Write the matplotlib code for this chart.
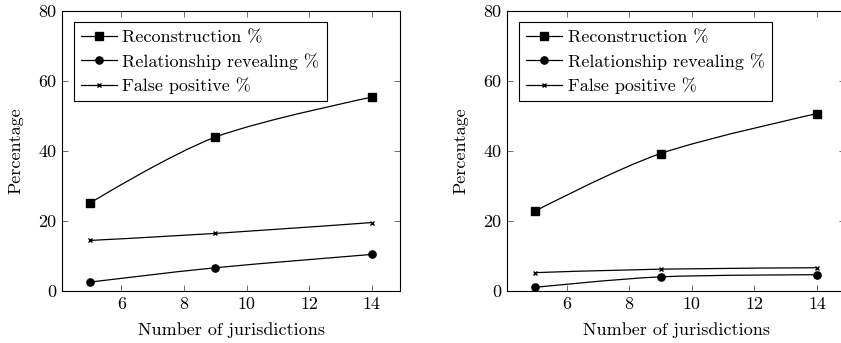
import numpy as np
import matplotlib
matplotlib.use("Agg")
import matplotlib.pyplot as plt
from matplotlib.path import Path
from matplotlib.patches import PathPatch
from matplotlib.lines import Line2D

plt.rcParams['font.family'] = 'cmr10'
plt.rcParams['mathtext.fontset'] = 'cm'
plt.rcParams['axes.unicode_minus'] = False
plt.rcParams['font.size'] = 13

jurisdictions = [5, 9, 14]

# left panel
recon_a = [25.1, 43.9, 55.3]
relat_a = [2.5, 6.6, 10.4]
falsep_a = [14.4, 16.4, 19.5]

# right panel
recon_b = [22.8, 39.2, 50.6]
relat_b = [1.0, 4.0, 4.6]
falsep_b = [5.2, 6.2, 6.6]

labels = ['Reconstruction %', 'Relationship revealing %', 'False positive %']
markers = ['s', 'o', 'x']
msizes = [5.2, 5.2, 3.3]


def smooth_path(x, y, t=0.16):
    # cubic bezier through the points, like tikz "smooth"
    p = np.column_stack([x, y]).astype(float)
    verts = [p[0]]
    codes = [Path.MOVETO]
    n = len(p)
    for i in range(n - 1):
        d0 = p[i + 1] - p[i - 1] if i > 0 else np.zeros(2)
        d1 = p[i + 2] - p[i] if i + 2 < n else np.zeros(2)
        verts += [p[i] + t * d0, p[i + 1] - t * d1, p[i + 1]]
        codes += [Path.CURVE4] * 3
    return Path(verts, codes)


def draw(ax, series):
    for ys, m, ms in zip(series, markers, msizes):
        ax.add_patch(PathPatch(smooth_path(jurisdictions, ys), fill=False,
                               lw=0.9, ec='black'))
        ax.plot(jurisdictions, ys, ls='none', marker=m, ms=ms, color='black',
                mew=1.0)
    ax.set_xlim(4.1, 14.9)
    ax.set_ylim(0, 80)
    ax.set_xticks([6, 8, 10, 12, 14])
    ax.set_yticks([0, 20, 40, 60, 80])
    ax.tick_params(direction='in', top=True, right=True, length=4, width=0.6,
                   color='#555555', labelsize=13, pad=4)
    for s in ax.spines.values():
        s.set_linewidth(0.8)
    ax.set_xlabel('Number of jurisdictions', labelpad=7.5)
    ax.set_ylabel('Percentage', labelpad=11)
    handles = [Line2D([], [], color='black', lw=0.9, marker=m, ms=ms, mew=1.0)
               for m, ms in zip(markers, msizes)]
    leg = ax.legend(handles, labels, loc='upper left', fancybox=False,
                    edgecolor='black', framealpha=1, handlelength=2.0,
                    handletextpad=0.3, borderpad=0.4, labelspacing=0.42,
                    borderaxespad=0.65, fontsize=13)
    leg.get_frame().set_linewidth(0.8)


fig = plt.figure(figsize=(8.41, 3.43), dpi=100)
ax1 = fig.add_axes([0.0737, 0.152, 0.402, 0.817])
ax2 = fig.add_axes([0.603, 0.152, 0.402, 0.817])
draw(ax1, [recon_a, relat_a, falsep_a])
draw(ax2, [recon_b, relat_b, falsep_b])

fig.savefig('out.png', dpi=100)
